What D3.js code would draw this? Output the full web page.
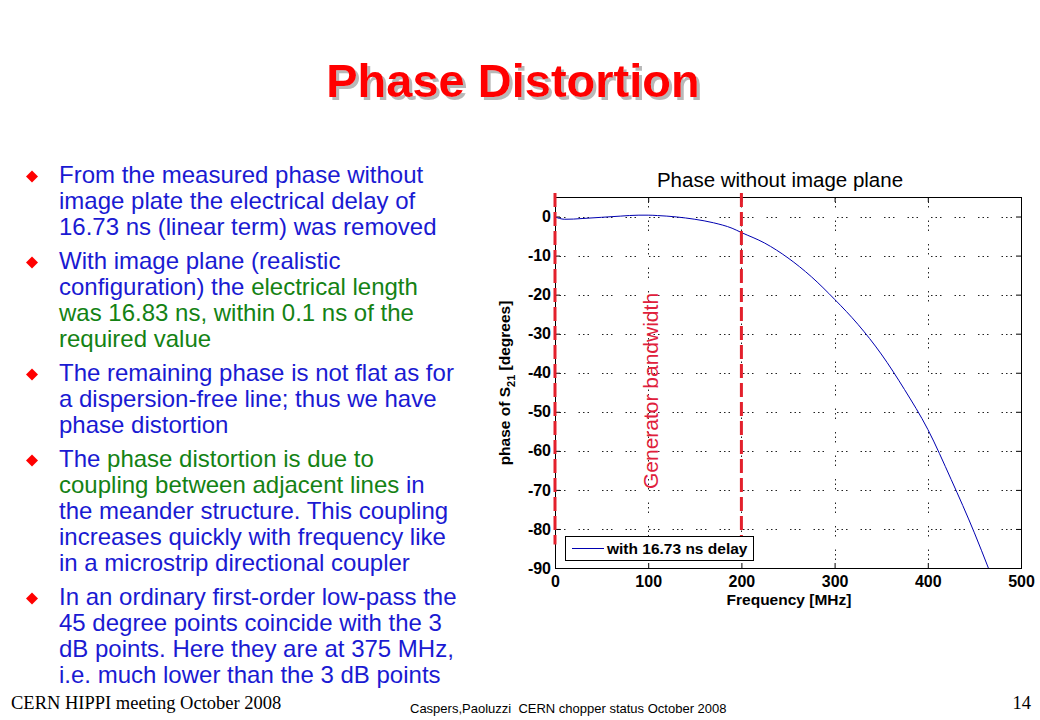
<!DOCTYPE html>
<html>
<head>
<meta charset="utf-8">
<script src="https://cdn.jsdelivr.net/npm/d3@7"></script>
<style>
  body { margin: 0; background: #fff; }
  svg { display: block; font-family: "Liberation Sans", Arial, sans-serif; }
</style>
</head>
<body>
<div id="slide"></div>
<script>
;( function() {
  'use strict';

  // measured phase after removing the 16.73 ns linear term
  var freqMHz  = [0, 5, 10, 20, 30, 50, 70, 90, 100, 110, 130, 150, 170, 190, 200,
                  225, 250, 275, 300, 325, 350, 375, 400, 425, 450, 465];
  var phaseDeg = [-0.1, -0.5, -0.7, -0.65, -0.5, -0.2, 0.1, 0.35, 0.35, 0.25, -0.1, -0.7, -1.6, -3.0, -4.1,
                  -6.8, -10.6, -15.4, -21.2, -27.6, -35.2, -44.3, -54.5, -67.3, -81.0, -90];

  var xTicks = [0, 100, 200, 300, 400, 500];
  var yTicks = [-90, -80, -70, -60, -50, -40, -30, -20, -10, 0];
  var xDomain = [0, 500];
  var yDomain = [-90, 5];

  var bandEdgesMHz = [0, 200];
  var bandSpanDeg  = [-84, 6];

  var slideTitle  = 'Phase Distortion';
  var chartTitle  = 'Phase without image plane';
  var xLabel      = 'Frequency [MHz]';
  var bandLabel   = 'Generator bandwidth';
  var legendLabel = 'with 16.73 ns delay';

  // {...} marks the green (highlighted) part of a line
  var bullets = [
    ['From the measured phase without',
     'image plate the electrical delay of',
     '16.73 ns (linear term) was removed'],
    ['With image plane (realistic',
     'configuration) the {electrical length}',
     '{was 16.83 ns, within 0.1 ns of the}',
     '{required value}'],
    ['The remaining phase is not flat as for',
     'a dispersion-free line; thus we have',
     'phase distortion'],
    ['The {phase distortion is due to}',
     '{coupling between adjacent lines} in',
     'the meander structure. This coupling',
     'increases quickly with frequency like',
     'in a microstrip directional coupler'],
    ['In an ordinary first-order low-pass the',
     '45 degree points coincide with the 3',
     'dB points. Here they are at 375 MHz,',
     'i.e. much lower than the 3 dB points']
  ];

  var footerLeft   = 'CERN HIPPI meeting October 2008';
  var footerCenter = 'Caspers,Paoluzzi  CERN chopper status October 2008';
  var footerPage   = '14';


  var width = 1040, height = 720;
  var blue = '#1a1ad2', green = '#148214', red = '#ff0000';

  var svg = d3.select('#slide')
  .append('svg')
    .attr('width', width)
    .attr('height', height)
    .attr('viewBox', '0 0 ' + width + ' ' + height);

  // soft grey shadow behind the slide title
  svg.append('defs')
  .append('filter')
    .attr('id', 'titleShadow')
    .attr('x', '-5%').attr('y', '-20%')
    .attr('width', '115%').attr('height', '150%')
  .append('feDropShadow')
    .attr('dx', 3)
    .attr('dy', 3)
    .attr('stdDeviation', 0.6)
    .attr('flood-color', '#9a9a9a')
    .attr('flood-opacity', 0.7);

  svg.append('rect')
    .attr('width', width)
    .attr('height', height)
    .attr('fill', '#fff');

  svg.append('text')
    .attr('x', 513)
    .attr('y', 97)
    .attr('text-anchor', 'middle')
    .attr('font-size', 47)
    .attr('font-weight', 'bold')
    .attr('fill', red)
    .attr('filter', 'url(#titleShadow)')
    .text(slideTitle);

  //
  //  bullet list
  //
  var list = svg.append('g').attr('class', 'bullets');
  var baseY = 183, lineH = 26, gapH = 8;

  bullets.forEach(function(lines) {
    list.append('path')
      .attr('d', d3.symbol().type(d3.symbolSquare).size(72)())
      .attr('transform', 'translate(32,' + (baseY - 6.5) + ') rotate(45)')
      .attr('fill', red);

    lines.forEach(function(line, i) {
      var t = list.append('text')
        .attr('x', 59)
        .attr('y', baseY + i * lineH)
        .attr('font-size', 24)
        .attr('xml:space', 'preserve');

      line.split(/([{}])/).reduce(function(hl, part) {
        if (part === '{') return true;
        if (part === '}') return false;
        if (part) t.append('tspan').attr('fill', hl ? green : blue).text(part);
        return hl;
      }, false);
    });

    baseY += lines.length * lineH + gapH;
  });

  //
  //  chart
  //
  var chartArea = { left: 555, top: 197, right: 1021, bottom: 568 };

  var x = d3.scaleLinear()
    .domain(xDomain)
    .range([chartArea.left, chartArea.right]);

  var y = d3.scaleLinear()
    .domain(yDomain)
    .range([chartArea.bottom, chartArea.top]);

  var chart = svg.append('g').attr('class', 'chart');

  // dotted grid
  var dots = '1.5,3,1.5,3,1.5,13';

  chart.append('g')
    .attr('id', 'verticalGrid')
  .selectAll('line')
  .data(xTicks.filter(function(d) { return d > xDomain[0] && d < xDomain[1]; }))
  .enter().append('line')
    .attr('x1', function(d) { return Math.round(x(d)) + 0.5; })
    .attr('x2', function(d) { return Math.round(x(d)) + 0.5; })
    .attr('y1', chartArea.top)
    .attr('y2', chartArea.bottom)
    .attr('stroke', '#222')
    .attr('stroke-width', 1)
    .attr('stroke-dasharray', dots);

  chart.append('g')
    .attr('id', 'horizontalGrid')
  .selectAll('line')
  .data(yTicks.filter(function(d) { return d > yDomain[0]; }))
  .enter().append('line')
    .attr('x1', chartArea.left)
    .attr('x2', chartArea.right)
    .attr('y1', function(d) { return Math.round(y(d)) + 0.5; })
    .attr('y2', function(d) { return Math.round(y(d)) + 0.5; })
    .attr('stroke', '#222')
    .attr('stroke-width', 1)
    .attr('stroke-dasharray', dots);

  // axes, ticks pointing inwards on all four sides (plain hyphen minus, as in matlab)
  var fmt = function(d) { return String(d); };

  var xAxis = d3.axisBottom(x)
    .tickValues(xTicks)
    .tickFormat(fmt)
    .tickSize(-5)
    .tickPadding(8);

  var yAxis = d3.axisLeft(y)
    .tickValues(yTicks)
    .tickFormat(fmt)
    .tickSize(-5)
    .tickPadding(4);

  chart.append('g')
    .attr('id', 'xAxis')
    .attr('transform', 'translate(0,' + chartArea.bottom + ')')
  .call(xAxis);

  chart.append('g')
    .attr('id', 'yAxis')
    .attr('transform', 'translate(' + chartArea.left + ',0)')
  .call(yAxis);

  chart.append('g')
    .attr('transform', 'translate(0,' + chartArea.top + ')')
  .call(d3.axisTop(x).tickValues(xTicks).tickFormat('').tickSize(-5));

  chart.append('g')
    .attr('transform', 'translate(' + chartArea.right + ',0)')
  .call(d3.axisRight(y).tickValues(yTicks).tickFormat('').tickSize(-5));

  chart.selectAll('.domain').remove();
  chart.selectAll('.tick line').attr('stroke', '#000');
  chart.selectAll('.tick text')
    .attr('font-family', '"Liberation Sans", Arial, sans-serif')
    .attr('font-size', 16)
    .attr('font-weight', 'bold')
    .attr('fill', '#000');

  chart.append('rect')
    .attr('x', chartArea.left + 0.5)
    .attr('y', chartArea.top + 0.5)
    .attr('width', chartArea.right - chartArea.left)
    .attr('height', chartArea.bottom - chartArea.top)
    .attr('fill', 'none')
    .attr('stroke', '#000')
    .attr('stroke-width', 1);

  // phase curve
  var lineGen = d3.line()
    .curve(d3.curveMonotoneX)
    .x(function(d, i) { return x(freqMHz[i]); })
    .y(function(d) { return y(d); });

  chart.append('path')
    .attr('d', lineGen(phaseDeg))
    .attr('fill', 'none')
    .attr('stroke', '#0000b0')
    .attr('stroke-width', 1);

  // generator bandwidth markers
  chart.append('g')
    .attr('id', 'band')
  .selectAll('line')
  .data(bandEdgesMHz)
  .enter().append('line')
    .attr('x1', function(d) { return x(d); })
    .attr('x2', function(d) { return x(d); })
    .attr('y1', y(bandSpanDeg[1]))
    .attr('y2', y(bandSpanDeg[0]))
    .attr('stroke', '#e3202c')
    .attr('stroke-width', 3)
    .attr('stroke-dasharray', '14,5');

  chart.append('text')
    .attr('transform', 'translate(658,391) rotate(-90)')
    .attr('text-anchor', 'middle')
    .attr('font-size', 21)
    .attr('fill', '#e0203c')
    .text(bandLabel);

  // legend
  var legend = chart.append('g').attr('id', 'legend');

  legend.append('rect')
    .attr('x', 565.5)
    .attr('y', 536.5)
    .attr('width', 188)
    .attr('height', 24)
    .attr('fill', '#fff')
    .attr('stroke', '#000');

  legend.append('line')
    .attr('x1', 572)
    .attr('x2', 604)
    .attr('y1', 548.5)
    .attr('y2', 548.5)
    .attr('stroke', '#0000b0');

  legend.append('text')
    .attr('x', 607)
    .attr('y', 554)
    .attr('font-size', 15.5)
    .attr('font-weight', 'bold')
    .text(legendLabel);

  // titles of the chart
  chart.append('text')
    .attr('x', 780)
    .attr('y', 187)
    .attr('text-anchor', 'middle')
    .attr('font-size', 20.5)
    .text(chartTitle);

  chart.append('text')
    .attr('x', 789)
    .attr('y', 605)
    .attr('text-anchor', 'middle')
    .attr('font-size', 15.5)
    .attr('font-weight', 'bold')
    .text(xLabel);

  var yLab = chart.append('text')
    .attr('transform', 'translate(510,383) rotate(-90)')
    .attr('text-anchor', 'middle')
    .attr('font-size', 15.5)
    .attr('font-weight', 'bold');
  yLab.append('tspan').text('phase of S');
  yLab.append('tspan').attr('font-size', 11).attr('dy', 5).text('21');
  yLab.append('tspan').attr('dy', -5).text(' [degrees]');

  //
  //  footer
  //
  svg.append('text')
    .attr('x', 11)
    .attr('y', 709)
    .attr('font-family', '"Liberation Serif", "Times New Roman", serif')
    .attr('font-size', 18.5)
    .text(footerLeft);

  svg.append('text')
    .attr('x', 410)
    .attr('y', 713)
    .attr('font-size', 13)
    .attr('xml:space', 'preserve')
    .text(footerCenter);

  svg.append('text')
    .attr('x', 1031)
    .attr('y', 709)
    .attr('text-anchor', 'end')
    .attr('font-family', '"Liberation Serif", "Times New Roman", serif')
    .attr('font-size', 18.5)
    .text(footerPage);

})();
</script>
</body>
</html>
